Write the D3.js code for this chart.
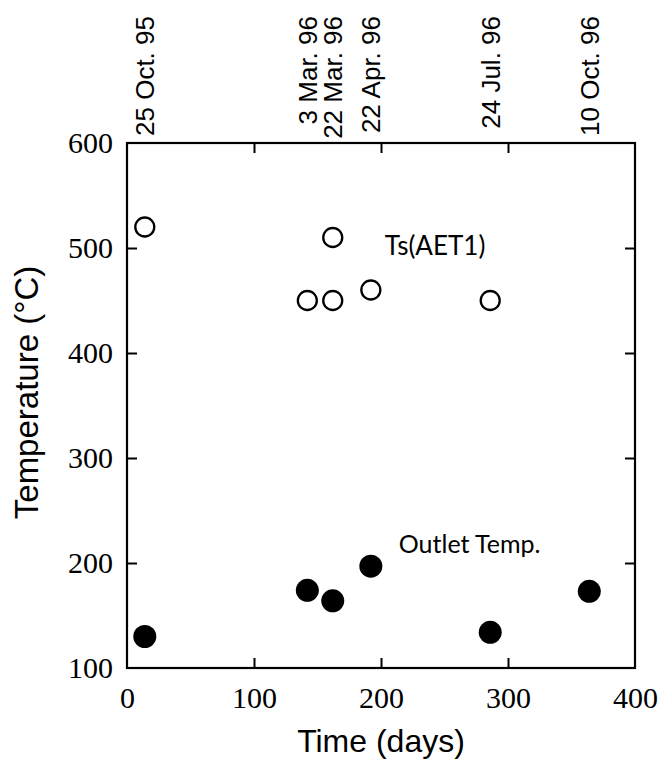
<!DOCTYPE html>
<html>
<head>
<meta charset="utf-8">
<script src="https://cdn.jsdelivr.net/npm/d3@7/dist/d3.min.js"></script>
<style>
  html, body { margin: 0; padding: 0; background: #fff; }
  svg { display: block; }
</style>
</head>
<body>
<svg id="chart" width="658" height="760"></svg>
<script>
// ---- data ----
const xTicks = [0, 100, 200, 300, 400];
const yTicks = [100, 200, 300, 400, 500, 600];

const tsDays   = [14, 142, 162, 162, 192, 286];
const tsValues = [520, 450, 450, 510, 460, 450];

const outDays   = [14, 142, 162, 192, 286, 364];
const outValues = [130, 174, 164, 197, 134, 173];

const dateDays   = [14, 142, 162, 192, 286, 364];
const dateLabels = ["25 Oct. 95", "3 Mar. 96", "22 Mar. 96", "22 Apr. 96", "24 Jul. 96", "10 Oct. 96"];

const seriesLabels = ["Ts(AET1)", "Outlet Temp."];

// ---- layout ----
const W = 658, H = 760;
const m = { left: 127, right: 23, top: 143, bottom: 92 };
const iw = W - m.left - m.right, ih = H - m.top - m.bottom;

const svg = d3.select("#chart");
const g = svg.append("g").attr("transform", `translate(${m.left},${m.top})`);

const x = d3.scaleLinear().domain([0, 400]).range([0, iw]);
const y = d3.scaleLinear().domain([100, 600]).range([ih, 0]);

const serif = "'Liberation Serif','Times New Roman',serif";
const sans = "'Liberation Sans',Arial,Helvetica,sans-serif";

// axes
const axBottom = g.append("g").attr("transform", `translate(0,${ih})`)
  .call(d3.axisBottom(x).tickValues(xTicks).tickSize(-10).tickPadding(19));
const axLeft = g.append("g")
  .call(d3.axisLeft(y).tickValues(yTicks).tickSize(-10).tickPadding(14));
const axTop = g.append("g")
  .call(d3.axisTop(x).tickValues(xTicks.slice(1, -1)).tickSize(-10).tickFormat(""));
const axRight = g.append("g").attr("transform", `translate(${iw},0)`)
  .call(d3.axisRight(y).tickValues(yTicks.slice(1, -1)).tickSize(-10).tickFormat(""));

[axBottom, axLeft, axTop, axRight].forEach(a => {
  a.select(".domain").remove();
  a.selectAll(".tick line").attr("stroke", "#000").attr("stroke-width", 2);
  a.selectAll(".tick text").attr("font-family", serif).attr("font-size", 30).attr("fill", "#000");
});
axLeft.selectAll(".tick").filter(d => d === 100 || d === 600).select("line").remove();
axBottom.selectAll(".tick").filter(d => d === 0 || d === 400).select("line").remove();

// frame
g.append("rect").attr("x", 0).attr("y", 0).attr("width", iw).attr("height", ih)
  .attr("fill", "none").attr("stroke", "#000").attr("stroke-width", 2.2);

// open circles
g.selectAll("circle.ts").data(tsDays.map((d, i) => [d, tsValues[i]])).enter()
  .append("circle").attr("class", "ts")
  .attr("cx", d => x(d[0])).attr("cy", d => y(d[1])).attr("r", 9.5)
  .attr("fill", "#fff").attr("stroke", "#000").attr("stroke-width", 2.3);

// filled circles
g.selectAll("circle.out").data(outDays.map((d, i) => [d, outValues[i]])).enter()
  .append("circle").attr("class", "out")
  .attr("cx", d => x(d[0])).attr("cy", d => y(d[1])).attr("r", 11.5)
  .attr("fill", "#000");

// series annotations
const annFont = "Lato,'Open Sans',sans-serif";
g.append("text").attr("x", x(203)).attr("y", y(493))
  .attr("font-family", annFont).attr("font-size", 26).text(seriesLabels[0]);
g.append("text").attr("x", x(214)).attr("y", y(210))
  .attr("font-family", annFont).attr("font-size", 25).text(seriesLabels[1]);

// date labels along top
svg.append("g").selectAll("text").data(dateDays.map((d, i) => [d, dateLabels[i]])).enter()
  .append("text")
  .attr("transform", d => `translate(${m.left + x(d[0])},16) rotate(-90)`)
  .attr("text-anchor", "end").attr("dy", "0.36em")
  .attr("font-family", sans).attr("font-size", 26)
  .text(d => d[1]);

// axis titles
svg.append("text").attr("x", m.left + iw / 2).attr("y", 752)
  .attr("text-anchor", "middle").attr("font-family", sans).attr("font-size", 32)
  .text("Time (days)");
svg.append("text").attr("transform", `translate(38,${m.top + ih / 2 - 13}) rotate(-90)`)
  .attr("text-anchor", "middle").attr("font-family", sans).attr("font-size", 33)
  .text("Temperature (°C)");
</script>
</body>
</html>
